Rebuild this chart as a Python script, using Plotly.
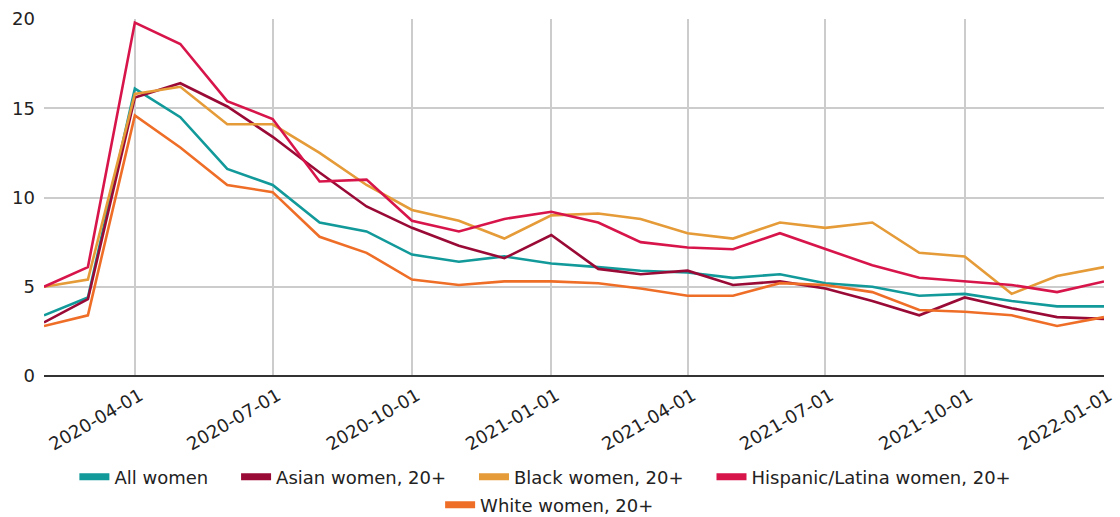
import plotly.graph_objects as go

dates = ["2020-02-01", "2020-03-01", "2020-04-01", "2020-05-01", "2020-06-01", "2020-07-01",
         "2020-08-01", "2020-09-01", "2020-10-01", "2020-11-01", "2020-12-01", "2021-01-01",
         "2021-02-01", "2021-03-01", "2021-04-01", "2021-05-01", "2021-06-01", "2021-07-01",
         "2021-08-01", "2021-09-01", "2021-10-01", "2021-11-01", "2021-12-01", "2022-01-01"]

all_women = [3.4, 4.4, 16.1, 14.5, 11.6, 10.7, 8.6, 8.1, 6.8, 6.4, 6.7, 6.3,
             6.1, 5.9, 5.8, 5.5, 5.7, 5.2, 5.0, 4.5, 4.6, 4.2, 3.9, 3.9]
asian = [3.0, 4.3, 15.6, 16.4, 15.1, 13.4, 11.4, 9.5, 8.3, 7.3, 6.6, 7.9,
         6.0, 5.7, 5.9, 5.1, 5.3, 4.9, 4.2, 3.4, 4.4, 3.8, 3.3, 3.2]
black = [5.0, 5.4, 15.8, 16.2, 14.1, 14.1, 12.5, 10.7, 9.3, 8.7, 7.7, 9.0,
         9.1, 8.8, 8.0, 7.7, 8.6, 8.3, 8.6, 6.9, 6.7, 4.6, 5.6, 6.1]
hispanic = [5.0, 6.1, 19.8, 18.6, 15.4, 14.4, 10.9, 11.0, 8.7, 8.1, 8.8, 9.2,
            8.6, 7.5, 7.2, 7.1, 8.0, 7.1, 6.2, 5.5, 5.3, 5.1, 4.7, 5.3]
white = [2.8, 3.4, 14.6, 12.8, 10.7, 10.3, 7.8, 6.9, 5.4, 5.1, 5.3, 5.3,
         5.2, 4.9, 4.5, 4.5, 5.2, 5.1, 4.7, 3.7, 3.6, 3.4, 2.8, 3.3]

series_names = ["All women", "Asian women, 20+", "Black women, 20+",
                "Hispanic/Latina women, 20+", "White women, 20+"]
series_values = [all_women, asian, black, hispanic, white]
colors = ["#12999A", "#9A0A36", "#E59B38", "#D7154B", "#EF6E27"]

tick_dates = ["2020-04-01", "2020-07-01", "2020-10-01", "2021-01-01",
              "2021-04-01", "2021-07-01", "2021-10-01", "2022-01-01"]
y_ticks = [0, 5, 10, 15, 20]

FONT = "DejaVu Sans"
PAD = "\u00a0" * 4

fig = go.Figure()
for name, vals, col in zip(series_names, series_values, colors):
    fig.add_trace(go.Scatter(x=dates, y=vals, mode="lines", name=name,
                             line=dict(color=col, width=2.6), showlegend=False,
                             hoverinfo="x+y+name"))
# legend entries (wide rectangle swatches)
for i, (name, col) in enumerate(zip(series_names, colors)):
    fig.add_trace(go.Scatter(x=[None], y=[None], mode="lines",
                             name=name + (PAD if i < 3 else ""),
                             line=dict(color=col, width=7),
                             legend="legend" if i < 4 else "legend2"))

fig.update_layout(
    width=1120, height=517,
    margin=dict(l=44, r=16, t=19, b=141),
    plot_bgcolor="white", paper_bgcolor="white",
    font=dict(family=FONT, size=16, color="#222222"),
    xaxis=dict(type="date", range=[dates[0], dates[-1]], automargin=False,
               tickvals=tick_dates, ticktext=tick_dates,
               tickangle=-30, showgrid=True, gridcolor="#cccccc", gridwidth=1.5,
               zeroline=False, showline=False, ticks="",
               ticklabelstandoff=5, ticklabelshift=5,
               tickfont=dict(family=FONT, size=18, color="#222222")),
    yaxis=dict(range=[0, 20], tickvals=y_ticks, showgrid=True, gridcolor="#cccccc",
               gridwidth=1.5, zeroline=True, zerolinecolor="#333333", zerolinewidth=2,
               showline=False, ticks="", ticklabelstandoff=8, automargin=False,
               tickfont=dict(family=FONT, size=18, color="#222222")),
    legend=dict(orientation="h", x=0.473, xanchor="center", yref="container",
                y=1 - 477 / 517, yanchor="middle",
                font=dict(family=FONT, size=18, color="#222222"), itemwidth=30,
                bgcolor="rgba(0,0,0,0)"),
    legend2=dict(orientation="h", x=0.477, xanchor="center", yref="container",
                 y=1 - 505 / 517, yanchor="middle",
                 font=dict(family=FONT, size=18, color="#222222"), itemwidth=30,
                 bgcolor="rgba(0,0,0,0)"),
)

fig.write_html("out.html")
